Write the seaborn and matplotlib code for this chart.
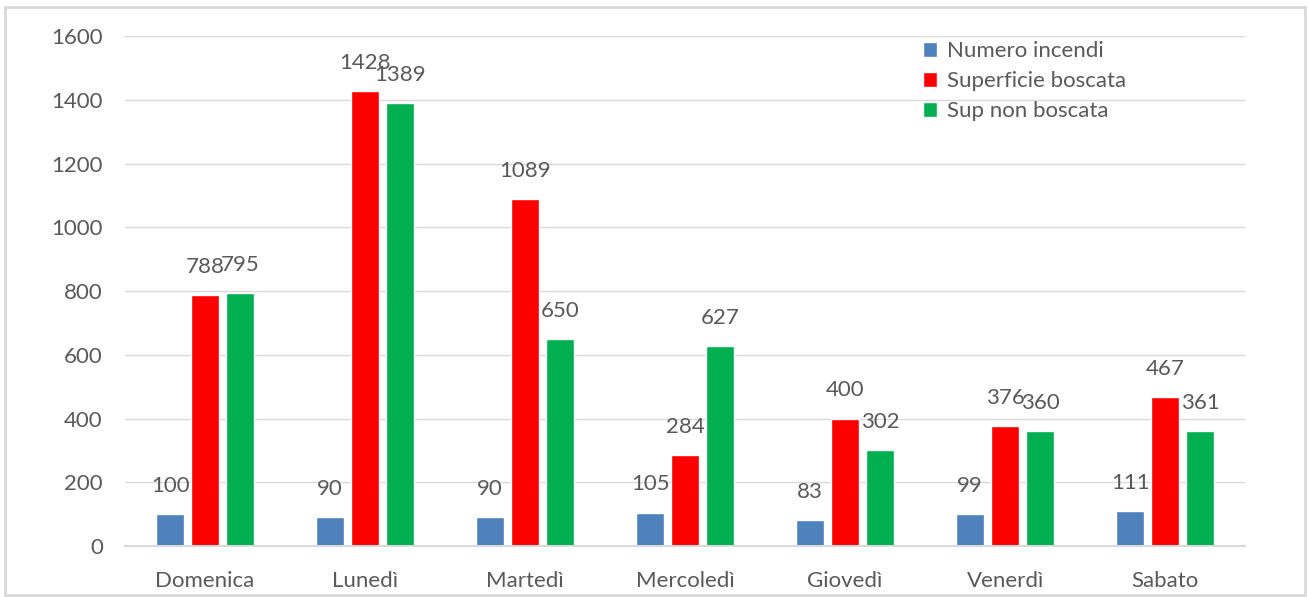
import pandas as pd
import matplotlib.pyplot as plt
import seaborn as sns
from matplotlib.patches import Rectangle

giorni = ['Domenica', 'Lunedì', 'Martedì', 'Mercoledì', 'Giovedì', 'Venerdì', 'Sabato']
serie = ['Numero incendi', 'Superficie boscata', 'Sup non boscata']
numero_incendi = [100, 90, 90, 105, 83, 99, 111]
sup_boscata = [788, 1428, 1089, 284, 400, 376, 467]
sup_non_boscata = [795, 1389, 650, 627, 302, 360, 361]
colori = ['#4F81BD', '#FF0000', '#00B050']

df = pd.DataFrame({
    'giorno': giorni * 3,
    'serie': [serie[0]] * 7 + [serie[1]] * 7 + [serie[2]] * 7,
    'valore': numero_incendi + sup_boscata + sup_non_boscata,
})

sns.set_style('white')
plt.rcParams['font.family'] = ['Lato', 'DejaVu Sans']
testo = '#595959'
griglia = '#D9D9D9'
fs = 16

fig = plt.figure(figsize=(13.08, 5.97), dpi=100)
ax = fig.add_axes([0.0956, 0.0854, 0.8564, 0.8543])

sns.barplot(data=df, x='giorno', y='valore', hue='serie', order=giorni,
            hue_order=serie, palette=colori, width=0.656, gap=0.2,
            saturation=1, ax=ax, legend=True)

# etichette dei valori sopra le barre
for cont in ax.containers:
    ax.bar_label(cont, padding=13, fontsize=fs, color=testo)

ax.set_ylim(0, 1600)
ax.set_yticks(range(0, 1601, 200))
ax.set_xlim(-0.5, 6.5)
ax.yaxis.grid(True, color=griglia, linewidth=1)
ax.set_axisbelow(True)
for s in ['left', 'right', 'top']:
    ax.spines[s].set_visible(False)
ax.spines['bottom'].set_color(griglia)
ax.spines['bottom'].set_linewidth(1.5)
ax.tick_params(axis='y', length=0, pad=16, labelsize=fs, labelcolor=testo)
ax.tick_params(axis='x', length=0, pad=18, labelsize=fs, labelcolor=testo)
ax.set_xlabel('')
ax.set_ylabel('')

leg = ax.legend(loc='upper left', bbox_to_anchor=(0.697, 0.95),
                bbox_transform=fig.transFigure, frameon=False, fontsize=fs,
                handlelength=0.65, handleheight=0.65, handletextpad=0.45,
                labelspacing=0.45, borderpad=0)
for t in leg.get_texts():
    t.set_color(testo)

fig.patches.append(Rectangle((0.004, 0.004), 0.994, 0.985, transform=fig.transFigure,
                             fill=False, edgecolor=griglia, linewidth=2))

fig.savefig('out.png', dpi=100)
